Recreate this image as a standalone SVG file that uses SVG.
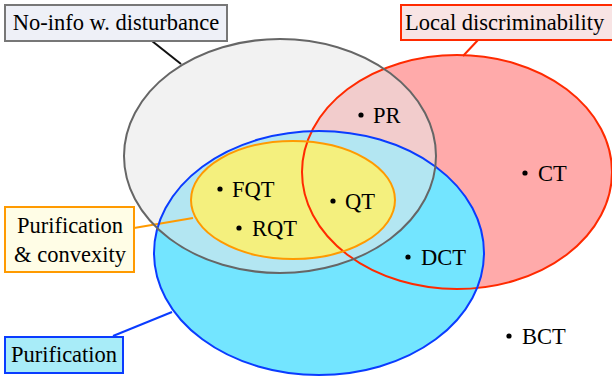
<svg xmlns="http://www.w3.org/2000/svg" width="612" height="383" viewBox="0 0 612 383">
<style>
text{font-family:"Liberation Serif","Times New Roman",serif;font-size:22.5px;fill:#000}
.box{stroke-width:2}
.dot{fill:#000}
</style>
<rect width="612" height="383" fill="#fff"/>
<g id="fills">
<ellipse cx="457" cy="172" rx="155" ry="117" fill="#ffaaaa"/>
<ellipse cx="319" cy="253" rx="165" ry="122" fill="#73e5ff"/>
<ellipse cx="280" cy="156" rx="156" ry="117" fill="#e7e7e7" fill-opacity="0.553"/>
<ellipse cx="293" cy="200" rx="102" ry="59" fill="#f4f07e"/>
</g>
<g id="connectors" stroke-width="2" fill="none">
<line x1="152" y1="41" x2="181" y2="64" stroke="#111"/>
<line x1="478" y1="40" x2="463" y2="56" stroke="#ff2a00"/>
<line x1="134" y1="228" x2="193" y2="218" stroke="#ff9a00"/>
<line x1="113" y1="336" x2="172" y2="312" stroke="#0a3cff"/>
</g>
<g id="set-local-discriminability"><ellipse cx="457" cy="172" rx="155" ry="117" fill="none" stroke="#ff2a00" stroke-width="2"/></g>
<g id="set-purification"><ellipse cx="319" cy="253" rx="165" ry="122" fill="none" stroke="#0a3cff" stroke-width="2"/></g>
<g id="set-noinfo"><ellipse cx="280" cy="156" rx="156" ry="117" fill="none" stroke="#666" stroke-width="2"/></g>
<g id="set-purification-convexity"><ellipse cx="293" cy="200" rx="102" ry="59" fill="none" stroke="#ff9a00" stroke-width="2"/></g>
<g id="label-noinfo"><rect class="box" x="5" y="5" width="222" height="36" fill="#eef0f7" stroke="#777"/><text x="116" y="30" text-anchor="middle">No-info w. disturbance</text></g>
<g id="label-local"><rect class="box" x="401" y="5" width="215" height="35" fill="#f8e4e4" stroke="#ff2a00"/><text x="405" y="30">Local discriminability</text></g>
<g id="label-pc"><rect class="box" x="5" y="207" width="129" height="65" fill="#fffde6" stroke="#ff9a00"/><text x="70" y="233" text-anchor="middle">Purification</text><text x="70" y="262" text-anchor="middle">&amp; convexity</text></g>
<g id="label-pur"><rect class="box" x="5" y="337" width="118" height="36" fill="#a8ecf8" stroke="#0a3cff"/><text x="64" y="362" text-anchor="middle">Purification</text></g>
<g id="pt-PR"><circle class="dot" cx="361" cy="115" r="2.6"/><text x="373" y="123">PR</text></g>
<g id="pt-FQT"><circle class="dot" cx="220" cy="189" r="2.6"/><text x="232" y="197">FQT</text></g>
<g id="pt-QT"><circle class="dot" cx="333" cy="201" r="2.6"/><text x="345" y="209">QT</text></g>
<g id="pt-RQT"><circle class="dot" cx="239" cy="228" r="2.6"/><text x="252" y="236">RQT</text></g>
<g id="pt-CT"><circle class="dot" cx="525" cy="173" r="2.6"/><text x="538" y="181">CT</text></g>
<g id="pt-DCT"><circle class="dot" cx="408" cy="257" r="2.6"/><text x="421" y="265">DCT</text></g>
<g id="pt-BCT"><circle class="dot" cx="509" cy="336" r="2.6"/><text x="522" y="344">BCT</text></g>
</svg>
